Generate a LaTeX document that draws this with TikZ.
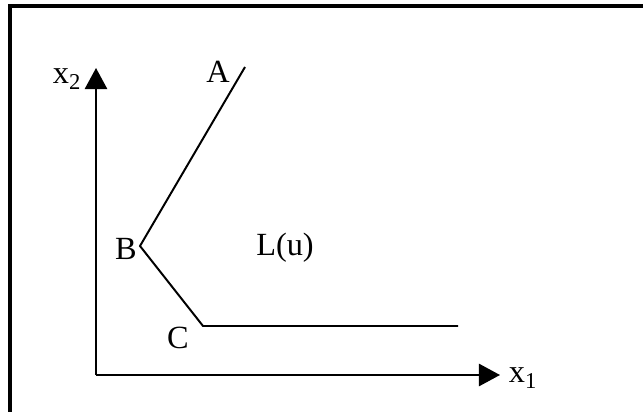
\documentclass[tikz,border=0pt]{standalone}
\usepackage{fontspec}
\setmainfont{Liberation Serif}
\usetikzlibrary{arrows.meta}
\tikzset{
  px/.style={x=0.025cm, y=-0.025cm},
  frame/.style={draw, line width=2.2pt},
  axis/.style={-{Triangle[length=5.3mm, width=5.6mm]}, line width=1.4pt},
  curve/.style={line width=1.4pt},
  lbl/.style={inner sep=0pt, font=\fontsize{23}{27}\selectfont}
}

\begin{document}
\begin{tikzpicture}[px]
\useasboundingbox (0,0) rectangle (643,412);
\draw[frame] (10,412) -- (10,6) -- (643,6);
% axes
\coordinate (O) at (96,375);
\coordinate (x2end) at (96,68);
\coordinate (x1end) at (500,375);
\draw[axis] (O) -- (x2end);
\draw[axis] (O) -- (x1end);
\node[lbl] (x2) at (67,79) {x\textsubscript{2}};
\node[lbl] (x1) at (523,378) {x\textsubscript{1}};
% kinked line
\coordinate (A) at (245,67);
\coordinate (B) at (140,246);
\coordinate (C) at (203,326);
\coordinate (D) at (458,326);
\draw[curve] (A) -- (B) -- (C) -- (D);
\node[lbl] (la) at (218,72) {A};
\node[lbl] (lb) at (126,249) {B};
\node[lbl] (lc) at (178,338) {C};
\node[lbl] (lu) at (285,248) {L(u)};
\end{tikzpicture}
\end{document}
